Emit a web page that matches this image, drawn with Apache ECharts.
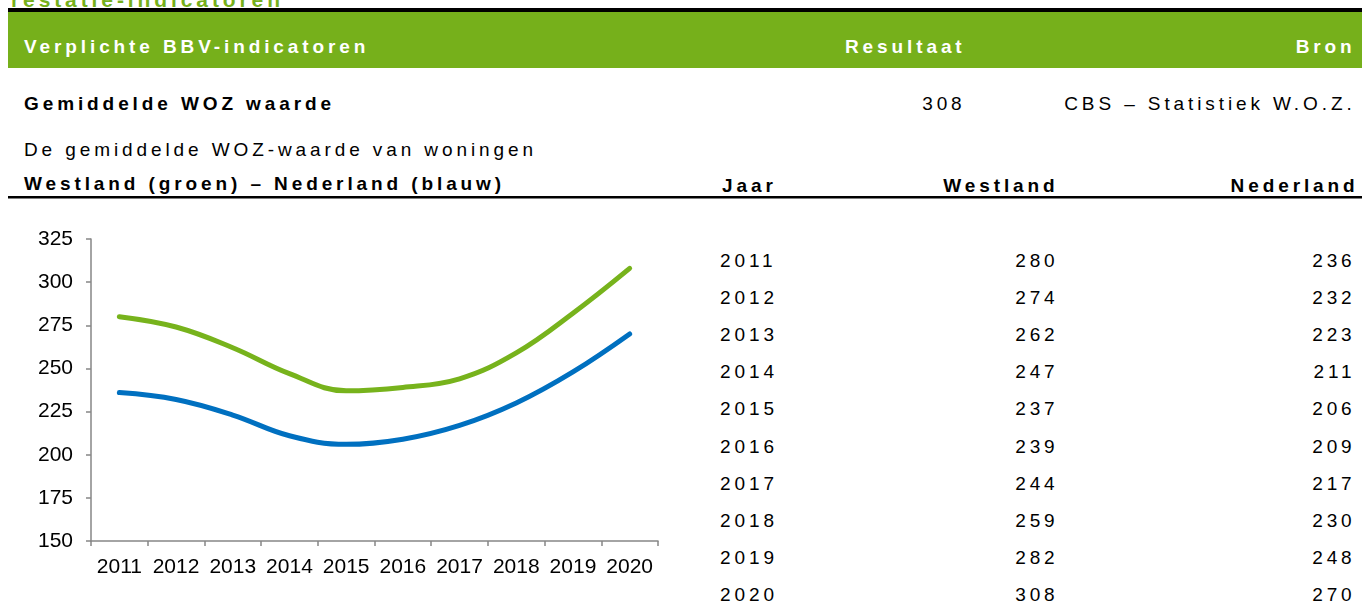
<!DOCTYPE html>
<html>
<head>
<meta charset="utf-8">
<script src="https://cdn.jsdelivr.net/npm/echarts@6/dist/echarts.min.js"></script>
<style>
  html, body { margin: 0; padding: 0; background: #fff; }
  #page { position: absolute; left: 0; top: 0; width: 1362px; height: 604px; letter-spacing: 3.9px; }
  #chart { position: absolute; left: 0; top: 0; width: 700px; height: 604px; }
</style>
</head>
<body>
<div id="page"></div>
<div id="chart"></div>
<script>
// data
const years = ['2011', '2012', '2013', '2014', '2015', '2016', '2017', '2018', '2019', '2020']
const westland = [280, 274, 262, 247, 237, 239, 244, 259, 282, 308]
const nederland = [236, 232, 223, 211, 206, 209, 217, 230, 248, 270]
const yMin = 150
const yMax = 325
const yStep = 25

const GREEN = '#76B01B'
const LINE_GREEN = '#77B31C'
const BLUE = '#0070C0'
const FONT = '"Liberation Sans", Arial, sans-serif'
const SHIFT = 3.6 // trailing letter spacing of right aligned text

function txt (text, x, y, opts) {
  opts = opts || {}
  const align = opts.align || 'left'
  return {
    type: 'text',
    silent: true,
    style: {
      text: text,
      x: align === 'right' ? x + SHIFT : x,
      y: y,
      fill: opts.color || '#000',
      font: (opts.bold ? 'bold ' : '') + (opts.size || 19) + 'px ' + FONT,
      align: align,
      textAlign: align,
      verticalAlign: 'middle',
      textVerticalAlign: 'middle'
    }
  }
}

// page: headers and table (svg, so css letter-spacing applies)
const page = echarts.init(document.getElementById('page'), null, { renderer: 'svg' })
const els = [
  txt('restatie-indicatoren', 11, -1, { bold: true, size: 21, color: GREEN }),
  { type: 'rect', silent: true, shape: { x: 8, y: 8, width: 1354, height: 4 }, style: { fill: '#000' } },
  { type: 'rect', silent: true, shape: { x: 8, y: 12, width: 1354, height: 56 }, style: { fill: GREEN } },
  txt('Verplichte BBV-indicatoren', 24, 46, { bold: true, color: '#fff' }),
  txt('Resultaat', 962, 46, { bold: true, color: '#fff', align: 'right' }),
  txt('Bron', 1352, 46, { bold: true, color: '#fff', align: 'right' }),
  txt('Gemiddelde WOZ waarde', 24, 103, { bold: true }),
  txt(String(westland[westland.length - 1]), 962, 103, { align: 'right' }),
  txt('CBS \u2013 Statistiek W.O.Z.', 1352, 103, { align: 'right' }),
  txt('De gemiddelde WOZ-waarde van woningen', 24, 149),
  txt('Westland (groen) \u2013 Nederland (blauw)', 24, 183, { bold: true }),
  txt('Jaar', 722, 185, { bold: true }),
  txt('Westland', 1055, 185, { bold: true, align: 'right' }),
  txt('Nederland', 1355, 185, { bold: true, align: 'right' }),
  { type: 'rect', silent: true, shape: { x: 8, y: 196, width: 1354, height: 2.5 }, style: { fill: '#000' } }
]
years.forEach(function (yr, i) {
  const y = 260.5 + i * 37.1
  els.push(txt(yr, 720, y))
  els.push(txt(String(westland[i]), 1055, y, { align: 'right' }))
  els.push(txt(String(nederland[i]), 1352, y, { align: 'right' }))
})
page.setOption({ animation: false, graphic: { elements: els } })

// line chart
const chart = echarts.init(document.getElementById('chart'))
const axisColor = '#868686'
chart.setOption({
  animation: false,
  grid: { left: 91, top: 239, width: 567, height: 302 },
  xAxis: {
    type: 'category',
    data: years,
    boundaryGap: true,
    axisLine: { lineStyle: { color: axisColor, width: 1.5 } },
    axisTick: { show: true, length: 5, lineStyle: { color: axisColor, width: 1.5 } },
    axisLabel: { interval: 0, color: '#000', fontSize: 21, fontFamily: FONT, margin: 16 },
    splitLine: { show: false }
  },
  yAxis: {
    type: 'value',
    min: yMin,
    max: yMax,
    interval: yStep,
    axisLine: { show: true, lineStyle: { color: axisColor, width: 1.5 } },
    axisTick: { show: true, length: 5, lineStyle: { color: axisColor, width: 1.5 } },
    axisLabel: { color: '#000', fontSize: 21, fontFamily: FONT, margin: 18 },
    splitLine: { show: false }
  },
  series: [
    {
      name: 'Westland',
      type: 'line',
      data: westland,
      smooth: 0.4,
      showSymbol: false,
      lineStyle: { color: LINE_GREEN, width: 5, cap: 'round' }
    },
    {
      name: 'Nederland',
      type: 'line',
      data: nederland,
      smooth: 0.4,
      showSymbol: false,
      lineStyle: { color: BLUE, width: 5, cap: 'round' }
    }
  ]
})
</script>
</body>
</html>
